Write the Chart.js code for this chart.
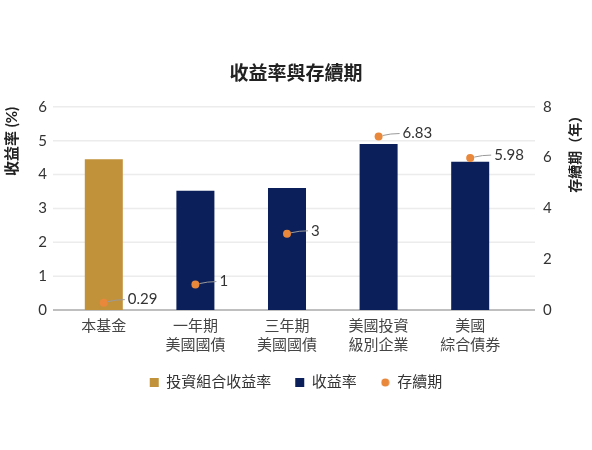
<!DOCTYPE html>
<html lang="zh-Hant">
  <head>
    <meta charset="UTF-8" />
    <title>收益率與存續期</title>
    <style>
      html, body { margin: 0; padding: 0; background: #fff; }
      #wrap { width: 592px; height: 450px; }
    </style>
  </head>
  <body>
    <div id="wrap"><canvas id="chartJSContainer"></canvas></div>
    <script src="https://cdn.jsdelivr.net/npm/chart.js@4.4.0/dist/chart.umd.min.js"></script>
    <script>
      const categories = [['本基金'], ['一年期', '美國國債'], ['三年期', '美國國債'], ['美國投資', '級別企業'], ['美國', '綜合債券']];
      const fundYield = [4.45, null, null, null, null];
      const benchYield = [null, 3.52, 3.6, 4.9, 4.38];
      const duration = [0.29, 1, 3, 6.83, 5.98];
      const rightTitle = '存續期（年）';

      const font = 'Lato, "Noto Sans CJK TC", sans-serif';
      const orange = '#E9873A';

      // small dot for the legend, the default circle is too big next to the squares
      const dot = document.createElement('canvas');
      dot.width = 9; dot.height = 9;
      const dctx = dot.getContext('2d');
      dctx.fillStyle = orange;
      dctx.beginPath();
      dctx.arc(4.5, 4.5, 4, 0, Math.PI * 2);
      dctx.fill();

      // the original's gridlines run a bit past the category band on both sides
      const wideGrid = {
        id: 'wideGrid',
        beforeDatasetsDraw: (chart) => {
          const { ctx, chartArea } = chart;
          const y = chart.scales.y;
          const x0 = chartArea.left - 5, x1 = chartArea.right + 19;
          ctx.save();
          y.ticks.forEach(t => {
            const py = y.getPixelForValue(t.value);
            ctx.beginPath();
            ctx.strokeStyle = t.value === 0 ? '#aaa' : '#ececec';
            ctx.lineWidth = 1.5;
            ctx.moveTo(x0, py);
            ctx.lineTo(x1, py);
            ctx.stroke();
          });
          ctx.restore();
        }
      };

      // right axis title reads bottom-to-top like the left one (chart.js would turn it the other way)
      const rightAxisTitle = {
        id: 'rightAxisTitle',
        afterDraw: (chart) => {
          const { ctx, chartArea } = chart;
          const s = chart.scales.y2;
          ctx.save();
          ctx.translate(s.right - 17, chartArea.top + 2);
          ctx.rotate(-Math.PI / 2);
          ctx.font = 'bold 14px ' + font;
          ctx.fillStyle = '#222';
          ctx.textAlign = 'right';
          ctx.textBaseline = 'middle';
          ctx.fillText(rightTitle, 0, 0);
          ctx.restore();
        }
      };

      // legend sits closer to the axis labels than its padding would allow
      const legendNudge = {
        id: 'legendNudge',
        afterLayout: (chart) => {
          chart.legend.top -= 10;
          chart.legend.bottom -= 10;
        }
      };

      // value labels with a small grey leader line
      const leaderLabels = {
        id: 'leaderLabels',
        afterDatasetsDraw: (chart) => {
          const { ctx } = chart;
          const meta = chart.getDatasetMeta(2);
          ctx.save();
          ctx.font = '15px ' + font;
          ctx.textBaseline = 'middle';
          ctx.textAlign = 'left';
          meta.data.forEach((pt, i) => {
            const x = pt.x, y = pt.y;
            ctx.beginPath();
            ctx.strokeStyle = '#9a9a9a';
            ctx.lineWidth = 1;
            ctx.moveTo(x + 4, y - 1);
            ctx.quadraticCurveTo(x + 12, y - 3, x + 21, y - 3);
            ctx.stroke();
            ctx.fillStyle = '#333';
            ctx.fillText(duration[i], x + 24, y - 3);
          });
          ctx.restore();
        }
      };

      const data = {
        labels: categories,
        datasets: [
          {
            label: '投資組合收益率',
            data: fundYield,
            backgroundColor: '#C2923A',
            pointStyle: 'rect',
            order: 2,
            yAxisID: 'y'
          },
          {
            label: '收益率',
            data: benchYield,
            backgroundColor: '#0B1F5A',
            pointStyle: 'rect',
            order: 1,
            yAxisID: 'y'
          },
          {
            type: 'line',
            label: '存續期',
            data: duration,
            showLine: false,
            pointRadius: 4,
            pointHoverRadius: 4,
            pointStyle: 'circle',
            backgroundColor: orange,
            borderColor: orange,
            borderWidth: 0,
            order: 0,
            yAxisID: 'y2'
          }
        ]
      };

      const options = {
        responsive: true,
        maintainAspectRatio: false,
        animation: false,
        skipNull: true,
        categoryPercentage: 1,
        barPercentage: 0.415,
        layout: { padding: { top: 62, left: 0, right: 0, bottom: 40 } },
        plugins: {
          title: {
            display: true,
            text: '收益率與存續期',
            color: '#222',
            font: { family: font, size: 19, weight: 'bold' },
            padding: { top: 0, bottom: 22 }
          },
          legend: {
            position: 'bottom',
            labels: {
              usePointStyle: true,
              boxWidth: 9,
              boxHeight: 9,
              padding: 24,
              color: '#333',
              font: { family: font, size: 15 },
              sort: (a, b) => a.datasetIndex - b.datasetIndex,
              generateLabels: (chart) => {
                const items = Chart.defaults.plugins.legend.labels.generateLabels(chart);
                items.forEach(it => { if (it.datasetIndex === 2) it.pointStyle = dot; });
                return items;
              }
            }
          },
          tooltip: { enabled: false }
        },
        scales: {
          x: {
            grid: { display: false, drawTicks: false },
            border: { display: false },
            ticks: { color: '#444', font: { family: font, size: 15, lineHeight: 1.3 }, padding: 6 }
          },
          y: {
            position: 'left',
            min: 0,
            max: 6,
            ticks: { stepSize: 1, color: '#333', font: { family: font, size: 15 }, padding: 11 },
            grid: { display: false, drawTicks: false },
            border: { display: false },
            afterFit: (scale) => { scale.width = 58; },
            title: {
              display: true,
              text: '收益率 (%)',
              align: 'end',
              color: '#222',
              padding: { top: 3, bottom: 6 },
              font: { family: font, size: 15, weight: 'bold' }
            }
          },
          y2: {
            position: 'right',
            min: 0,
            max: 8,
            ticks: { stepSize: 2, color: '#333', font: { family: font, size: 15 }, padding: 27 },
            grid: { display: false, drawTicks: false },
            border: { display: false },
            afterFit: (scale) => { scale.width = 76; },
            title: { display: false }
          }
        }
      };

      new Chart(document.getElementById('chartJSContainer').getContext('2d'), {
        type: 'bar',
        data,
        options,
        plugins: [wideGrid, legendNudge, leaderLabels, rightAxisTitle]
      });
    </script>
  </body>
</html>
